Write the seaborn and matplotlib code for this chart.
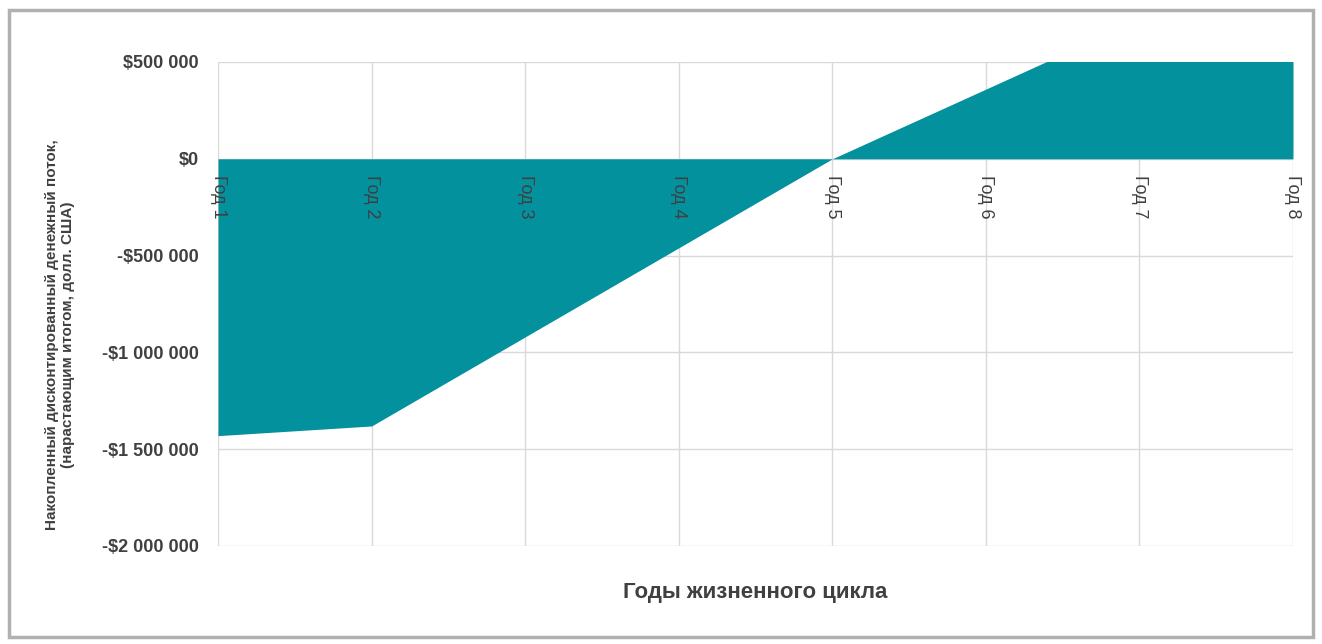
import matplotlib
matplotlib.use("Agg")
import matplotlib.pyplot as plt
import seaborn as sns
import pandas as pd
from matplotlib.patches import Rectangle

# ---- data ----
years = ["Год 1", "Год 2", "Год 3", "Год 4", "Год 5", "Год 6", "Год 7", "Год 8"]
cum_cash_flow = [-1430000, -1380000, -920000, -460000, 0, 360000, 720000, 1000000]
y_ticks = [500000, 0, -500000, -1000000, -1500000, -2000000]
y_tick_labels = ["$500 000", "$0", "-$500 000", "-$1 000 000", "-$1 500 000", "-$2 000 000"]
x_title = "Годы жизненного цикла"
y_title = "Накопленный дисконтированный денежный поток,\n(нарастающим итогом, долл. США)"

sns.set_theme(style="white")
plt.rcParams['font.family'] = ['Liberation Sans Narrow', 'Liberation Sans', 'DejaVu Sans']

df = pd.DataFrame({"idx": range(len(years)), "value": cum_cash_flow})

fig = plt.figure(figsize=(13.22, 6.44), dpi=100)
ax = fig.add_axes([218/1322, 1-546/644, (1293-218)/1322, (546-62)/644])

teal = "#03919E"
sns.lineplot(data=df, x="idx", y="value", ax=ax, color=teal, linewidth=0)
ax.fill_between(df["idx"], 0, df["value"], color=teal, linewidth=0, zorder=2)

ax.set_xlim(0, len(years) - 1)
ax.set_ylim(-2000000, 500000)
ax.set_yticks(y_ticks)
ax.set_yticklabels(y_tick_labels, fontsize=13, fontweight='bold', color='#404040')
ax.set_xticks(range(len(years)))
ax.set_xticklabels([])
ax.set_ylabel("")
ax.tick_params(axis='both', length=0, pad=14)
ax.grid(True, color='#d9d9d9', linewidth=1, zorder=0)
ax.set_axisbelow(True)
for s in ax.spines.values():
    s.set_visible(False)

for i, lab in enumerate(years):
    ax.annotate(lab, xy=(i, 0), xytext=(0, -12), textcoords='offset points',
                rotation=-90, ha='center', va='top', fontsize=13,
                color='#404040', zorder=5)

ax.set_xlabel(x_title, fontsize=16, fontweight='bold', color='#404040', labelpad=12)
fig.text(60/1322, 1-335/644, y_title, rotation=90, ha='center', va='center',
         fontsize=11, fontweight='bold', color='#404040', multialignment='center')

fig.patches.append(Rectangle((9/1322, 1-637/644), (1313-9)/1322, (637-10)/644,
                             transform=fig.transFigure, fill=False,
                             edgecolor='#b0b0b0', linewidth=2.5))

fig.savefig("out.png", dpi=100)
